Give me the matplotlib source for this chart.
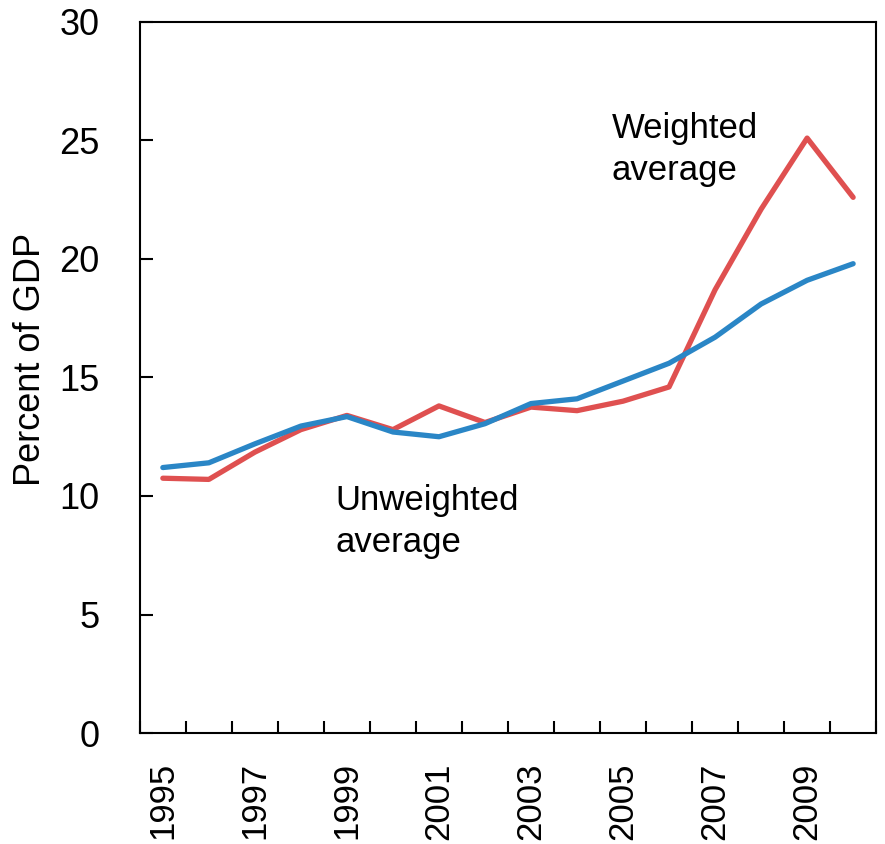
import matplotlib
matplotlib.use("Agg")
import matplotlib.pyplot as plt
import numpy as np

years = list(range(1995, 2011))
weighted = [10.75, 10.7, 11.85, 12.8, 13.4, 12.8, 13.8, 13.1, 13.75, 13.6, 14.0, 14.6, 18.7, 22.1, 25.1, 22.6]
unweighted = [11.2, 11.4, 12.2, 12.95, 13.35, 12.7, 12.5, 13.05, 13.9, 14.1, 14.85, 15.6, 16.7, 18.1, 19.1, 19.8]
year_labels = [str(y) if y % 2 == 1 else "" for y in years]
y_ticks = [0, 5, 10, 15, 20, 25, 30]

plt.rcParams['font.family'] = ['Liberation Sans', 'DejaVu Sans']

fig = plt.figure(figsize=(8.85, 8.44), dpi=100)
ax = fig.add_axes([0.158, 0.1315, 0.832, 0.8425])

x = np.arange(len(years))
ax.plot(x, weighted, color="#DF5050", linewidth=3.8, solid_capstyle="round")
ax.plot(x, unweighted, color="#2A86C6", linewidth=3.8, solid_capstyle="round")

ax.set_xlim(-0.5, len(years) - 0.5)
ax.set_ylim(0, 30)
ax.set_yticks(y_ticks)
ax.tick_params(axis="y", direction="in", length=9, width=1.5, labelsize=26, pad=29)

# ticks sit between the years, labels in the middle
ax.set_xticks(np.arange(len(years) + 1) - 0.5)
ax.set_xticklabels([])
ax.set_xticks(x, minor=True)
ax.set_xticklabels(year_labels, minor=True, rotation=90, fontsize=25)
ax.tick_params(axis="x", which="major", direction="in", length=9, width=1.5)
ax.tick_params(axis="x", which="minor", length=0, pad=21)

for s in ax.spines.values():
    s.set_linewidth(1.5)

ax.set_ylabel("Percent of GDP", fontsize=26)
ax.yaxis.set_label_coords(-0.125, 0.525)

ax.text(9.75, 24.6, "Weighted\naverage", fontsize=25, linespacing=1.35, va="center", ha="left")
ax.text(3.75, 10.5, "Unweighted\naverage", fontsize=25, linespacing=1.35, va="top", ha="left")

fig.savefig("out.png", dpi=100)
